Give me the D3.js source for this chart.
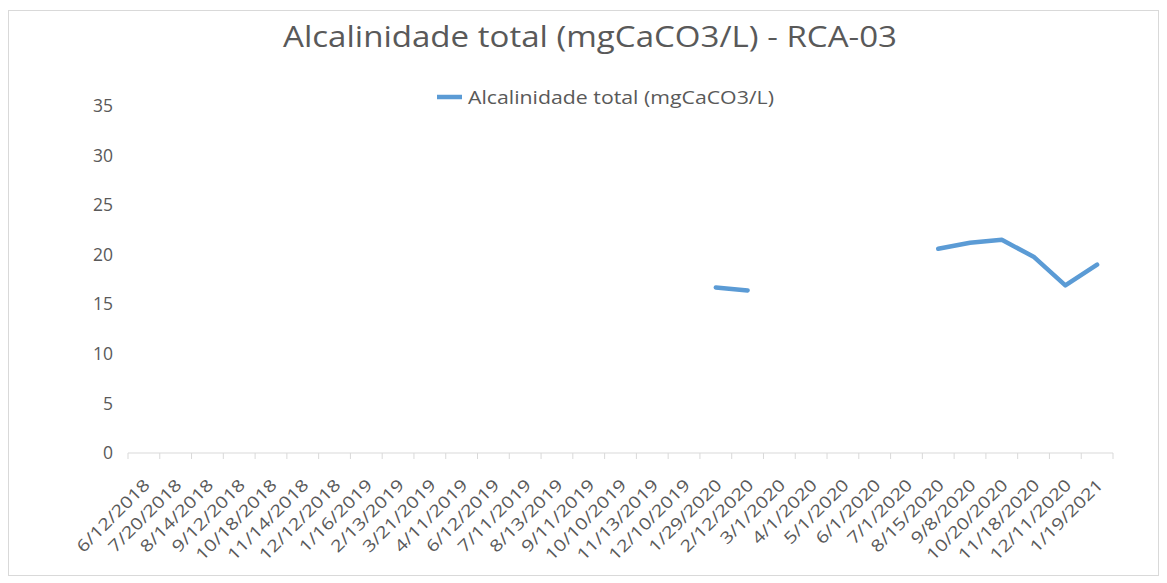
<!DOCTYPE html>
<html lang="pt">
  <head>
    <meta charset="UTF-8" />
    <title>Alcalinidade total - RCA-03</title>
    <script src="https://d3js.org/d3.v7.min.js" charset="utf-8"></script>
    <style>
      body { margin: 0; background: #fff; }
      text { font-family: "Open Sans", "DejaVu Sans", sans-serif; fill: #595959; }
    </style>
  </head>
  <body>
    <svg class="chart"></svg>
    <script>
      let dates = ["6/12/2018", "7/20/2018", "8/14/2018", "9/12/2018", "10/18/2018", "11/14/2018",
        "12/12/2018", "1/16/2019", "2/13/2019", "3/21/2019", "4/11/2019", "6/12/2019", "7/11/2019",
        "8/13/2019", "9/11/2019", "10/10/2019", "11/13/2019", "12/10/2019", "1/29/2020", "2/12/2020",
        "3/1/2020", "4/1/2020", "5/1/2020", "6/1/2020", "7/1/2020", "8/15/2020", "9/8/2020",
        "10/20/2020", "11/18/2020", "12/11/2020", "1/19/2021"];
      let alcalinidade = [null, null, null, null, null, null, null, null, null, null, null, null,
        null, null, null, null, null, null, 16.7, 16.4, null, null, null, null, null,
        20.6, 21.2, 21.5, 19.8, 16.9, 19.0];
      let yTicks = [0, 5, 10, 15, 20, 25, 30, 35];
      let seriesName = "Alcalinidade total (mgCaCO3/L)";
      let title = "Alcalinidade total (mgCaCO3/L) - RCA-03";

      let width = 1167;
      let height = 583;
      let margin = { left: 128, right: 54, top: 106, bottom: 130 };

      let svg = d3.select(".chart").attr("width", width).attr("height", height);

      svg.append("rect")
        .attr("x", 8.5).attr("y", 10.5)
        .attr("width", width - 17).attr("height", height - 18)
        .attr("fill", "#fff").attr("stroke", "#d9d9d9");

      let x = d3.scaleBand().domain(dates).range([margin.left, width - margin.right]);
      let y = d3.scaleLinear().domain([0, 35]).range([height - margin.bottom, margin.top]);

      // title (text is wide in the original, stretch a bit)
      svg.append("text")
        .attr("x", 283).attr("y", 47)
        .attr("textLength", 614)
        .attr("lengthAdjust", "spacingAndGlyphs")
        .style("font-size", "29px")
        .text(title);

      // legend
      svg.append("line")
        .attr("x1", 437).attr("x2", 462)
        .attr("y1", 97).attr("y2", 97)
        .attr("stroke", "#5b9bd5").attr("stroke-width", 4.5);
      svg.append("text")
        .attr("x", 468).attr("y", 104)
        .attr("textLength", 306)
        .attr("lengthAdjust", "spacingAndGlyphs")
        .style("font-size", "18px")
        .text(seriesName);

      // y axis labels
      svg.append("g").selectAll("text")
        .data(yTicks)
        .enter()
        .append("text")
        .attr("x", 113)
        .attr("y", d => y(d))
        .attr("dy", "0.35em")
        .attr("text-anchor", "end")
        .style("font-size", "17.5px")
        .text(d => d);

      // x axis
      let xAxis = svg.append("g")
        .attr("transform", "translate(0," + y(0) + ")");
      xAxis.append("line")
        .attr("x1", margin.left).attr("x2", width - margin.right)
        .attr("stroke", "#d9d9d9");
      xAxis.selectAll(".tick")
        .data(dates.concat([null]))
        .enter()
        .append("line")
        .attr("x1", (d, i) => margin.left + i * x.step())
        .attr("x2", (d, i) => margin.left + i * x.step())
        .attr("y1", 0).attr("y2", 6)
        .attr("stroke", "#d9d9d9");
      xAxis.selectAll(".lbl")
        .data(dates)
        .enter()
        .append("text")
        .attr("text-anchor", "end")
        .attr("transform", d => "translate(" + (x(d) + x.bandwidth() / 2 + 7) + ",33) rotate(-45)")
        .style("font-size", "16.5px")
        .text(d => d)
        .each(function() {
          let len = this.getComputedTextLength();
          d3.select(this)
            .attr("textLength", len * 1.22)
            .attr("lengthAdjust", "spacingAndGlyphs");
        });

      // line
      let line = d3.line()
        .defined(d => d != null)
        .x((d, i) => x(dates[i]) + x.bandwidth() / 2)
        .y(d => y(d));

      svg.append("path")
        .datum(alcalinidade)
        .attr("d", line)
        .attr("fill", "none")
        .attr("stroke", "#5b9bd5")
        .attr("stroke-width", 4.5)
        .attr("stroke-linecap", "round")
        .attr("stroke-linejoin", "round");
    </script>
  </body>
</html>
